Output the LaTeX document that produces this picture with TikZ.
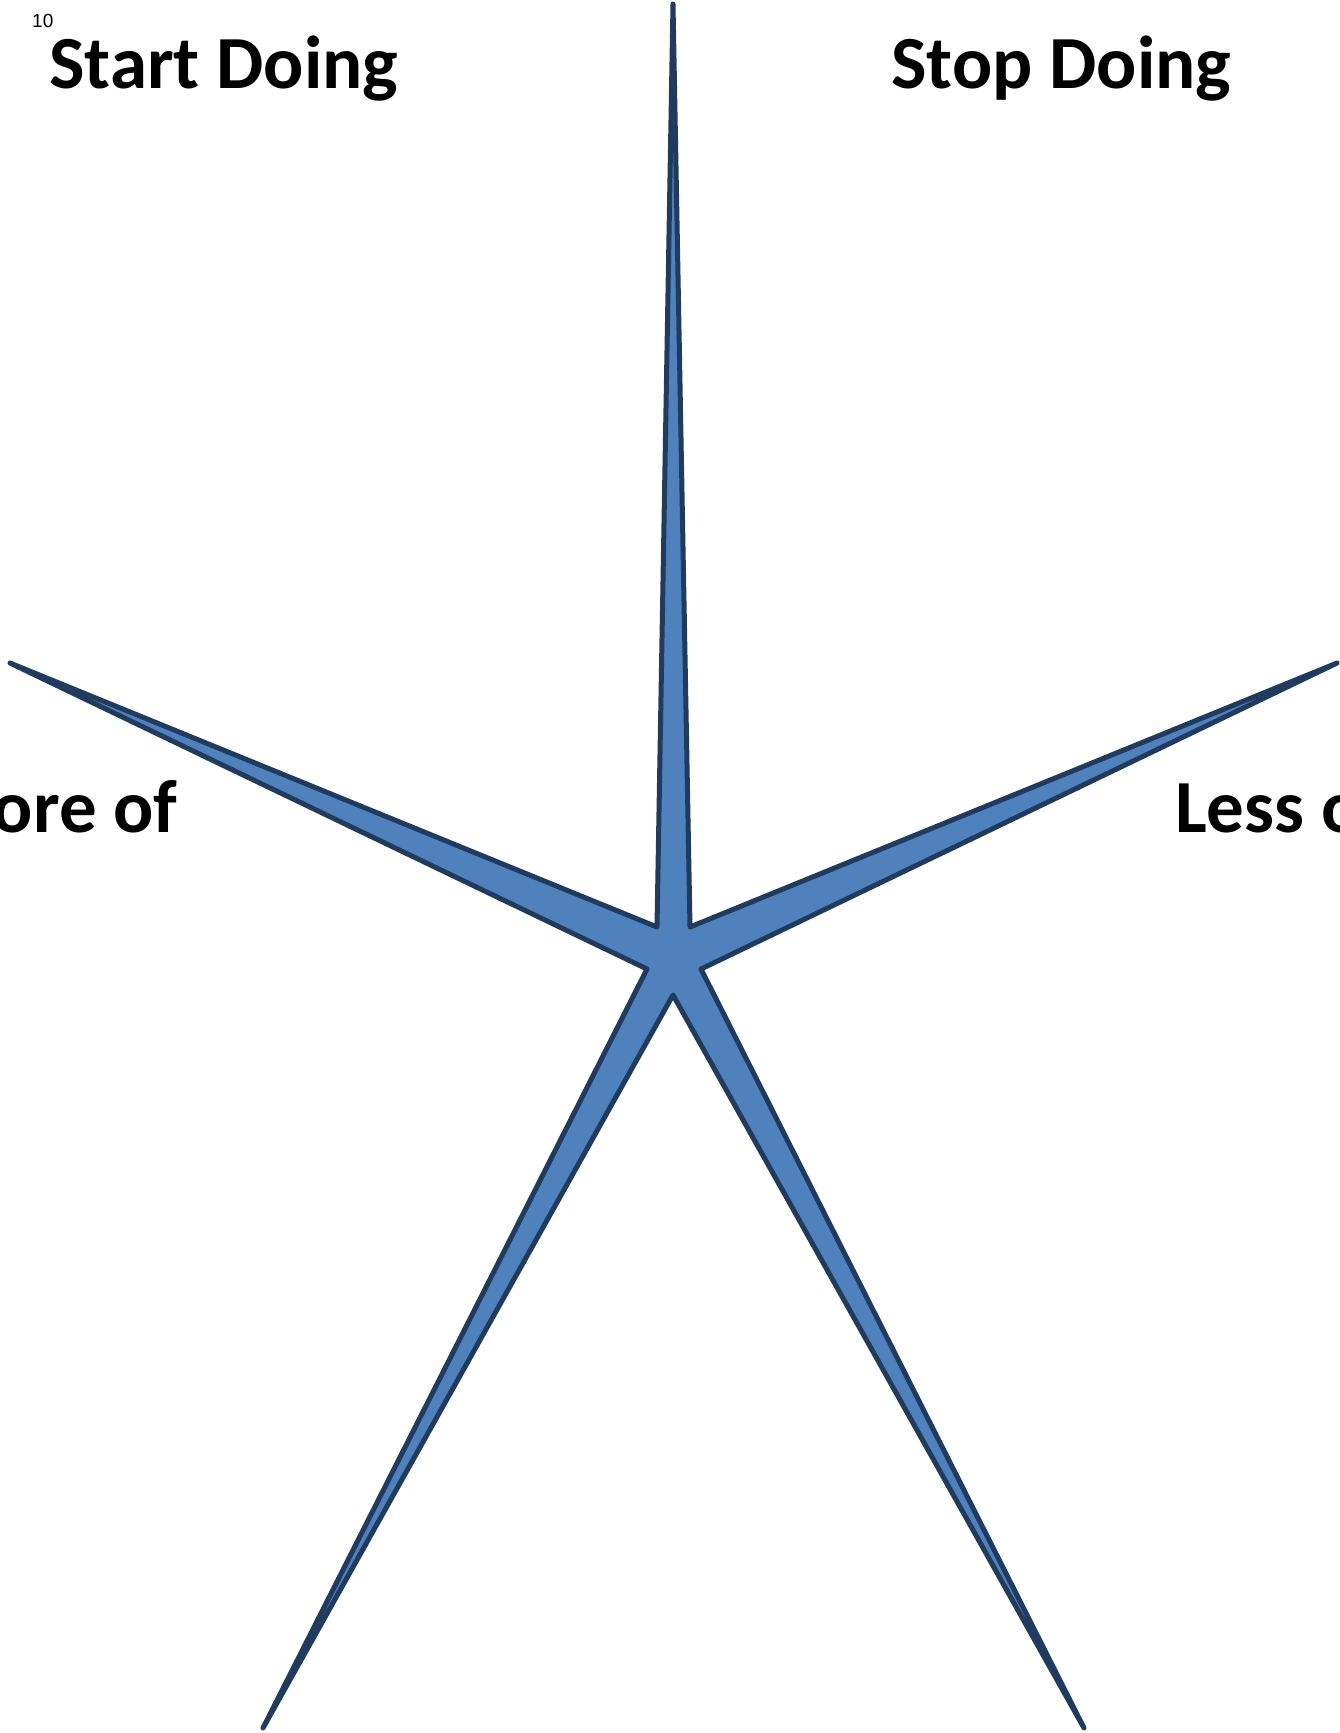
\documentclass[tikz,border=0pt]{standalone}
\usepackage{fontspec}
\setmainfont{Carlito}
\newfontfamily\pagefont{Liberation Sans}
\usetikzlibrary{positioning}
\definecolor{starfill}{HTML}{4F81BD}
\definecolor{starline}{HTML}{203B5E}
\tikzset{
  starshape/.style = {draw=starline, fill=starfill, line width=5pt,
                      line join=round},
  head/.style      = {font=\fontsize{75}{78}\selectfont\bfseries,
                      inner sep=0pt, anchor=base west},
  pagenum/.style   = {font=\pagefont\fontsize{19}{21}\selectfont,
                      inner sep=0pt, anchor=base west},
}
\begin{document}
\begin{tikzpicture}[x=1pt, y=-1pt]
  \useasboundingbox (0,0) rectangle (1340,1733);
  \begin{scope}
    \clip (0,0) rectangle (1340,1733);
    % five-pointed burst
    \draw[starshape]
      (673,4) -- (690,927) -- (1337,663) -- (701,969)
      -- (1084,1728) -- (673,995) -- (263,1728)
      -- (647,969) -- (10,663) -- (657,927) -- cycle;
    % labels
    \node[pagenum] (num)   at (32,27)    {10};
    \node[head]    (start) at (49,88)    {Start Doing};
    \node[head]    (stop)  at (891,88)   {Stop Doing};
    \node[head, anchor=base east] (more) at (178,832) {More of};
    \node[head]    (less)  at (1175,832) {Less of};
  \end{scope}
\end{tikzpicture}
\end{document}
